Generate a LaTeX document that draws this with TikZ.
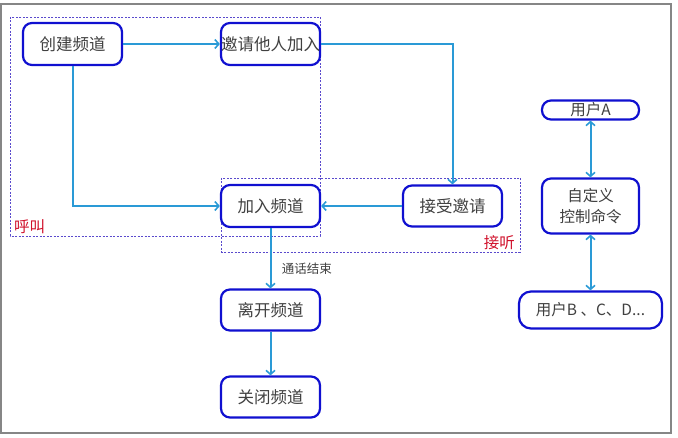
\documentclass[tikz,border=0pt]{standalone}
\usepackage{fontspec}
\setmainfont{Noto Sans CJK SC}
\usetikzlibrary{arrows.meta}
\definecolor{nodeblue}{HTML}{1010D0}
\definecolor{arrowblue}{HTML}{2A9AD6}
\definecolor{dashpurple}{HTML}{5A4ACD}
\definecolor{txt}{HTML}{404040}
\definecolor{lblred}{HTML}{D0102A}
\tikzset{
  box/.style={draw=nodeblue, line width=2.2pt, rounded corners=9pt, fill=white, minimum width=99pt, minimum height=42pt, inner sep=0pt, text=txt, font=\fontsize{16.5}{19}\selectfont, align=center},
  conn/.style={draw=arrowblue, line width=2pt, -{Straight Barb[length=4pt,width=9pt,line width=1.6pt]}},
  bconn/.style={draw=arrowblue, line width=2pt, {Straight Barb[length=4pt,width=9pt,line width=1.6pt]}-{Straight Barb[length=4pt,width=9pt,line width=1.6pt]}},
  group/.style={draw=dashpurple, line width=0.9pt, dash pattern=on 2pt off 1.5pt},
  grouplbl/.style={text=lblred, font=\fontsize{15.5}{17}\selectfont, inner sep=0pt},
}
\begin{document}
\begin{tikzpicture}[x=1pt,y=-1pt]
\useasboundingbox (0,0) rectangle (678,438);
\draw[draw=gray!95, line width=2.2pt] (1,4) rectangle (671,433);
% groups
\draw[group] (10,17) rectangle (320,236);
\draw[group] (221,178) rectangle (520,252);
\node[grouplbl, anchor=south west] (lcall) at (14,234) {呼叫};
\node[grouplbl, anchor=south east] (lans) at (515,250) {接听};
% nodes
\node[box] (create) at (72.5,44) {创建频道};
\node[box] (invite) at (270.5,44) {邀请他人加入};
\node[box] (join) at (270.5,206) {加入频道};
\node[box, minimum height=41pt] (accept) at (452.5,206) {接受邀请};
\node[box, minimum height=41pt] (leave) at (270.5,310) {离开频道};
\node[box, minimum height=41pt] (close) at (270.5,397) {关闭频道};
\node[box, minimum width=97pt, minimum height=19pt, rounded corners=9pt, font=\fontsize{15.5}{17}\selectfont] (ua) at (590.5,110) {用户A};
\node[box, minimum width=97pt, minimum height=55pt, font=\fontsize{15.5}{21}\selectfont] (cmd) at (590.5,206) {自定义\\控制命令};
\node[box, minimum width=143pt, minimum height=37pt, rounded corners=12pt, font=\fontsize{15.5}{17}\selectfont] (ub) at (590.5,310) {用户B 、C、D...};
% connectors
\draw[conn] (create) -- (invite);
\draw[conn] (create.south) |- (join.west);
\draw[conn] (invite.east) -| (accept.north);
\draw[conn] (accept) -- (join);
\draw[conn] (join) -- node[anchor=west, pos=0.68, text=txt, font=\fontsize{12.5}{14}\selectfont, xshift=7pt] (lend) {通话结束} (leave);
\draw[conn] (leave) -- (close);
\draw[bconn] (ua) -- (cmd);
\draw[bconn] (cmd) -- (ub);
\end{tikzpicture}
\end{document}
